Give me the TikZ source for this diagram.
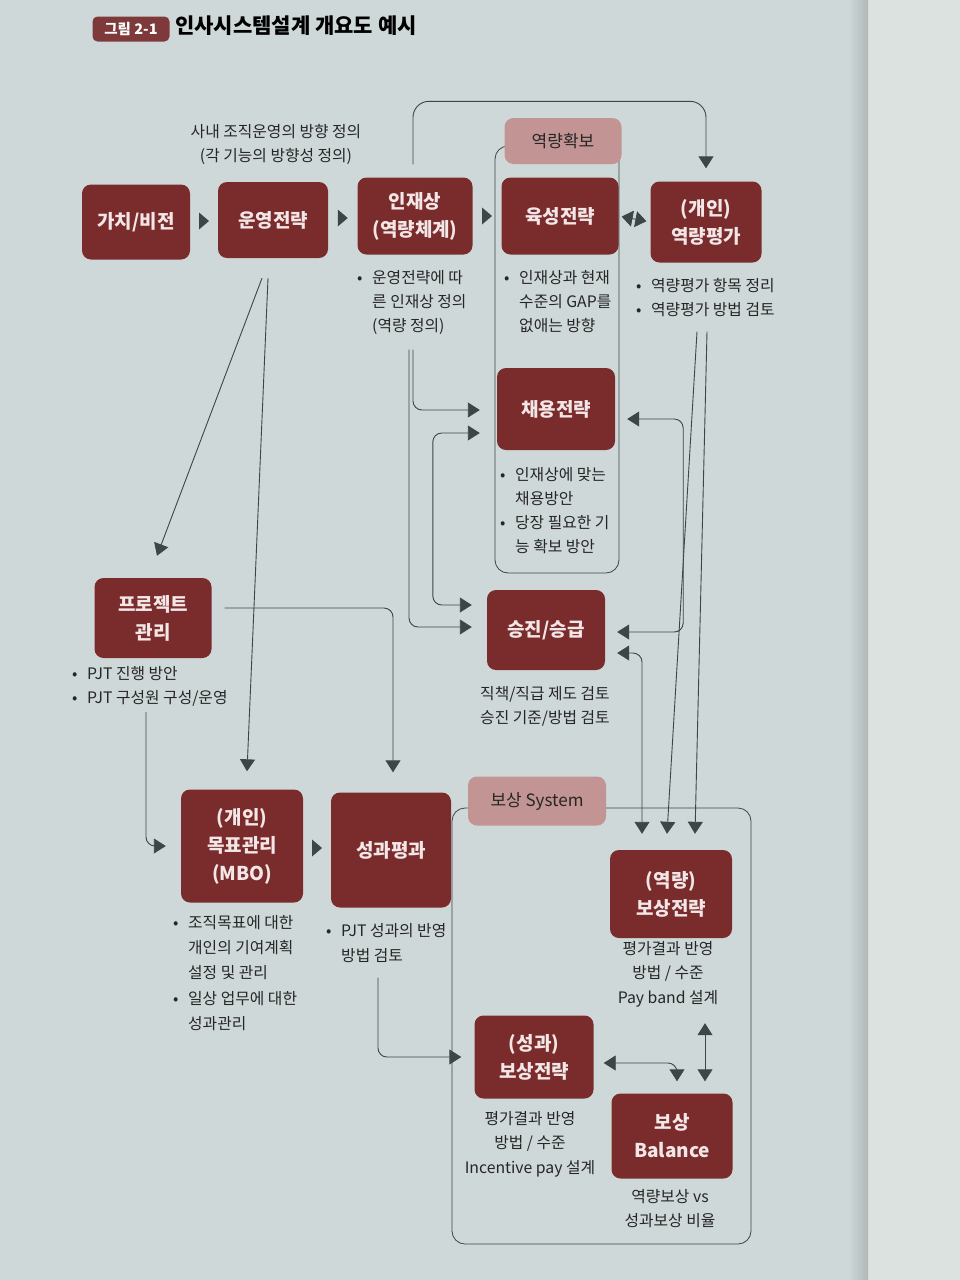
\documentclass[tikz,border=0pt]{standalone}
\usepackage{fontspec}
\setmainfont{Noto Sans CJK KR}
\usetikzlibrary{arrows.meta,calc}
\definecolor{pagebg}{HTML}{CFD8D8}
\definecolor{rightpage}{HTML}{DCE2DF}
\definecolor{boxred}{HTML}{7A2C2C}
\definecolor{titlered}{HTML}{7E3A3A}
\definecolor{boxpink}{HTML}{C39494}
\definecolor{boxtxt}{HTML}{F3E6E6}
\definecolor{ink}{HTML}{262626}
\definecolor{wirecol}{HTML}{3C4646}
\newcommand{\bul}{\makebox[0.95em][l]{•}}
\newcommand{\ind}{\hspace*{0.95em}}
\newcommand{\tri}[2]{\fill[wirecol] ($(#1.east)!0.5!(#2.west)$) ++(-5,-8.5) -- ++(10,8.5) -- ++(-10,8.5) -- cycle;}
\begin{document}
\begin{tikzpicture}[x=1pt,y=-1pt,
  redbox/.style={fill=boxred, rounded corners=9pt, text=boxtxt, font=\bfseries\fontsize{19}{28}\selectfont, align=center, inner sep=0pt},
  pinkbox/.style={fill=boxpink, rounded corners=9pt, text=ink, font=\fontsize{17}{20}\selectfont, inner sep=0pt},
  txtnote/.style={text=ink, font=\fontsize{15.8}{24}\selectfont, align=left, anchor=north west, inner sep=0pt},
  cnote/.style={text=ink, font=\fontsize{15.8}{24.5}\selectfont, align=center, anchor=north, inner sep=0pt},
  wire/.style={draw=wirecol, line width=0.9pt, rounded corners=9pt},
  arr/.style={-{Triangle[width=15pt,length=12pt]}},
  darr/.style={{Triangle[width=15pt,length=12pt]}-{Triangle[width=15pt,length=12pt]}},
  sdarr/.style={{Triangle[width=16pt,length=11pt]}-{Triangle[width=16pt,length=11pt]}},
  grpframe/.style={draw=wirecol, line width=0.8pt, rounded corners=13pt},
]
\useasboundingbox (0,0) rectangle (960,1280);
\fill[pagebg] (0,0) rectangle (960,1280);
\fill[rightpage] (868,0) rectangle (960,1280);
\shade[left color=pagebg, right color=pagebg!85!black] (848,0) rectangle (868,1280);

% title
\node[fill=titlered, rounded corners=5pt, text=white, font=\bfseries\fontsize{14.5}{14.5}\selectfont, minimum width=77pt, minimum height=25pt, inner sep=0pt] (fig) at (131,29) {그림 2-1};
\node[anchor=west, font=\bfseries\fontsize{21}{21}\selectfont, text=black, inner sep=0pt] (ttl) at (175,26) {인사시스템설계 개요도 예시};

% group frames
\draw[grpframe] (495,146) rectangle (619,573);
\draw[grpframe] (452,808) rectangle (751,1244);

% boxes
\node[redbox, minimum width=108pt, minimum height=75pt] (vis) at (136,222) {가치/비전};
\node[redbox, minimum width=110pt, minimum height=76pt] (ops) at (273,220) {운영전략};
\node[redbox, minimum width=115pt, minimum height=77pt] (tal) at (415,216) {인재상\\(역량체계)};
\node[redbox, minimum width=117pt, minimum height=77pt] (dev) at (560,216) {육성전략};
\node[redbox, minimum width=111pt, minimum height=81pt] (eval) at (706,222) {(개인)\\역량평가};
\node[pinkbox, minimum width=117pt, minimum height=46pt] (acq) at (563,141) {역량확보};
\node[redbox, minimum width=118pt, minimum height=82pt] (hire) at (556,409) {채용전략};
\node[redbox, minimum width=118pt, minimum height=80pt] (prom) at (546,630) {승진/승급};
\node[redbox, minimum width=117pt, minimum height=80pt] (proj) at (153,618) {프로젝트\\관리};
\node[redbox, minimum width=122pt, minimum height=113pt] (mbo) at (242,846) {(개인)\\목표관리\\(MBO)};
\node[redbox, minimum width=120pt, minimum height=115pt] (perf) at (391,850) {성과평과};
\node[pinkbox, minimum width=138pt, minimum height=49pt] (comp) at (537,801) {보상 System};
\node[redbox, minimum width=122pt, minimum height=88pt] (cstr) at (671,894) {(역량)\\보상전략};
\node[redbox, minimum width=119pt, minimum height=83pt] (pstr) at (534,1057) {(성과)\\보상전략};
\node[redbox, minimum width=121pt, minimum height=85pt] (bal) at (672,1136) {보상\\Balance};

% notes
\node[cnote] (opsnote) at (276,124) {사내 조직운영의 방향 정의\\(각 기능의 방향성 정의)};
\node[txtnote] (talnote) at (357,270) {\bul 운영전략에 따\\\ind 른 인재상 정의\\\ind (역량 정의)};
\node[txtnote] (devnote) at (504,270) {\bul 인재상과 현재\\\ind 수준의 GAP를\\\ind 없애는 방향};
\node[txtnote] (evalnote) at (636,278) {\bul 역량평가 항목 정리\\\bul 역량평가 방법 검토};
\node[txtnote] (hirenote) at (500,467) {\bul 인재상에 맞는\\\ind 채용방안\\\bul 당장 필요한 기\\\ind 능 확보 방안};
\node[cnote] (promnote) at (545,686) {직책/직급 제도 검토\\승진 기준/방법 검토};
\node[txtnote] (projnote) at (72,666) {\bul PJT 진행 방안\\\bul PJT 구성원 구성/운영};
\node[txtnote, font=\fontsize{15.8}{25.3}\selectfont] (mbonote) at (173,915) {\bul 조직목표에 대한\\\ind 개인의 기여계획\\\ind 설정 및 관리\\\bul 일상 업무에 대한\\\ind 성과관리};
\node[txtnote, font=\fontsize{15.8}{25}\selectfont] (perfnote) at (326,923) {\bul PJT 성과의 반영\\\ind 방법 검토};
\node[cnote] (cstrnote) at (668,941) {평가결과 반영\\방법 / 수준\\Pay band 설계};
\node[cnote] (pstrnote) at (530,1111) {평가결과 반영\\방법 / 수준\\Incentive pay 설계};
\node[cnote] (balnote) at (670,1189) {역량보상 vs\\성과보상 비율};

% flow markers
\tri{vis}{ops}
\tri{ops}{tal}
\tri{tal}{dev}
\tri{mbo}{perf}

% connectors
\draw[wire, arr, rounded corners=16pt, shorten >=13pt] ($(tal.north)+(-2,-13)$) |- ($(eval.north)+(0,-80)$) -- (eval.north);
\draw[wire, sdarr, shorten <=3pt, shorten >=4pt] (dev.east) -- (eval.west);
\draw[wire, arr] ($(ops.south)+(-11,20)$) -- ($(proj.north)+(4,-22)$);
\draw[wire, arr] ($(ops.south)+(-5,20)$) -- ($(mbo.north)+(5,-18)$);
\coordinate (talS) at ($(tal.south)+(-2,95)$);
\draw[wire, arr, shorten >=17pt] (talS) |- ($(hire.west)+(0,1)$);
\draw[wire, arr, shorten >=15pt] ($(talS)+(-4,0)$) |- ($(prom.west)+(0,-3)$);
\draw[wire, darr, shorten <=17pt, shorten >=15pt] ($(hire.west)+(0,24)$) -- ++(-64,0) |- ($(prom.west)+(0,-25)$);
\draw[wire, darr, shorten <=12pt, shorten >=12pt] ($(hire.east)+(0,10)$) -- ++(68,0) |- ($(prom.east)+(0,2)$);
\draw[wire, darr, shorten <=12pt, shorten >=16pt] ($(prom.east)+(0,23)$) -| ($(cstr.north)+(-29,0)$);
\draw[wire, arr] ($(eval.south)+(-9,69)$) -- ($(cstr.north)+(-4,-16)$);
\draw[wire, arr] ($(eval.south)+(1,69)$) -- ($(cstr.north)+(24,-16)$);
\draw[wire, arr, shorten >=20pt] ($(proj.east)+(13,-10)$) -| ($(perf.north)+(2,0)$);
\draw[wire, arr, shorten >=15pt] ($(proj.south)+(-7,54)$) |- (mbo.west);
\draw[wire, arr, shorten >=13pt] ($(perf.south)+(-13,70)$) |- (pstr.west);
\draw[wire, darr, shorten <=10pt, shorten >=12pt] ($(pstr.east)+(0,6)$) -| ($(bal.north)+(5,0)$);
\draw[wire, darr] ($(cstr.south)+(34,85)$) -- ($(bal.north)+(33,-12)$);
\end{tikzpicture}
\end{document}
